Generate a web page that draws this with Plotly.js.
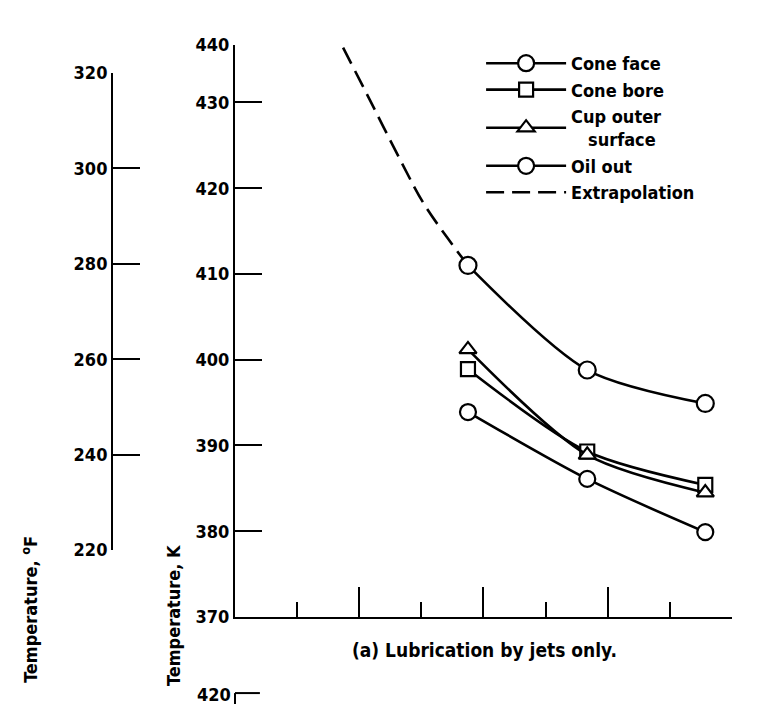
<!DOCTYPE html>
<html>
<head>
<meta charset="utf-8">
<script src="https://cdn.plot.ly/plotly-3.0.1.min.js"></script>
<style>html,body{margin:0;padding:0;background:#fff;}#chart{width:758px;height:704px;}</style>
</head>
<body>
<div id="chart"></div>
<script>
// Data (x in axis units, y in K)
const xPoints = [3.75, 5.67, 7.57];
const coneFace = [411.0, 398.8, 394.9];
const coneBore = [398.9, 389.3, 385.4];
const cupOuter = [401.2, 388.9, 384.5];
const oilOut = [393.9, 386.1, 379.9];
const extrapX = [1.74, 2.17, 2.66, 3.03, 3.41, 3.75];
const extrapY = [436.4, 430.3, 423.3, 418.3, 414.3, 411.0];
const kTickVals = [370, 380, 390, 400, 410, 420, 430, 436.7];
const kTickText = ['370', '380', '390', '400', '410', '420', '430', '440'];
const fTickVals = [220, 240, 260, 280, 300, 320];
const fTickText = ['220', '240', '260', '280', '300', '320'];
const seriesNames = ['Cone face', 'Cone bore', 'Cup outer<br>\u00a0\u00a0\u00a0surface', 'Oil out', 'Extrapolation'];

const FONT = 'Liberation Sans Narrow, DejaVu Sans Condensed, Arial Narrow, sans-serif';
const mk = (sym, size) => ({symbol: sym, size: size, color: '#fff', line: {color: '#000', width: 2.2}});
const ln = {color: '#000', width: 2.6, shape: 'spline', smoothing: 0.8};

const traces = [
  {x: [], y: [], yaxis: 'y2', showlegend: false, hoverinfo: 'skip'},
  {x: extrapX, y: extrapY, name: seriesNames[4], legendgroup: 'e', legendrank: 5, mode: 'lines', line: {color: '#000', width: 2.6, dash: '18px,8px', shape: 'spline'}},
  {x: xPoints, y: coneFace, name: seriesNames[0], legendgroup: 'a', legendrank: 1, mode: 'lines+markers', line: ln, marker: mk('circle', 17)},
  {x: xPoints, y: coneBore, name: seriesNames[1], legendgroup: 'b', legendrank: 2, mode: 'lines+markers', line: ln, marker: mk('square', 14)},
  {x: xPoints, y: cupOuter, name: seriesNames[2], legendgroup: 'c', legendrank: 3, mode: 'lines+markers', line: ln, marker: mk('triangle-up', 15)},
  {x: xPoints, y: oilOut, name: seriesNames[3], legendgroup: 'd', legendrank: 4, mode: 'lines+markers', line: ln, marker: mk('circle', 16)}
];

const tf = {family: FONT, size: 18, color: '#000', weight: 'bold'};

const layout = {
  width: 758, height: 704,
  margin: {l: 100, r: 26, t: 45, b: 87},
  paper_bgcolor: '#fff', plot_bgcolor: 'rgba(0,0,0,0)',
  font: {family: FONT, color: '#000', size: 17},
  showlegend: true,
  legend: {x: 0.603, y: 1.0, xanchor: 'left', yanchor: 'top', bgcolor: 'rgba(0,0,0,0)', traceorder: 'normal',
           font: {family: FONT, size: 18, color: '#000', weight: 'bold'}, itemwidth: 80, tracegroupgap: 3},
  xaxis: {domain: [0.2136, 1], range: [0, 8], showgrid: false, zeroline: false,
          showline: true, linecolor: '#000', linewidth: 2, mirror: false,
          tickvals: [0, 2, 4, 6, 8], ticks: 'inside', ticklen: 30, tickwidth: 2, tickcolor: '#000',
          showticklabels: false,
          minor: {tickvals: [1, 3, 5, 7], ticks: 'inside', ticklen: 15, tickwidth: 2, tickcolor: '#000', showgrid: false}},
  yaxis: {range: [370, 436.7], showgrid: false, zeroline: false,
          showline: true, linecolor: '#000', linewidth: 2,
          tickvals: kTickVals, ticktext: kTickText, ticks: 'inside', ticklen: 27, tickwidth: 2, tickcolor: '#000',
          tickfont: tf},
  yaxis2: {anchor: 'free', position: 0.019, side: 'left',
           domain: [0.117, 0.951], range: [220, 320], showgrid: false, zeroline: false,
           showline: true, linecolor: '#000', linewidth: 2,
           tickvals: fTickVals, ticktext: fTickText, ticks: 'inside', ticklen: 27, tickwidth: 2, tickcolor: '#000',
           tickfont: tf},
  annotations: [
    {text: 'Temperature, K', xref: 'paper', yref: 'paper', x: 0.117, y: 0.0035, xanchor: 'center', yanchor: 'middle', textangle: -90,
     showarrow: false, font: {family: FONT, size: 18, weight: 'bold'}},
    {text: 'Temperature, <sup>o</sup>F', xref: 'paper', yref: 'paper', x: -0.111, y: 0.014, xanchor: 'center', yanchor: 'middle', textangle: -90,
     showarrow: false, font: {family: FONT, size: 18, weight: 'bold'}},
    {text: '(a) Lubrication by jets only.', xref: 'paper', yref: 'paper', x: 0.609, y: -0.058, xanchor: 'center', yanchor: 'middle',
     showarrow: false, font: {family: FONT, size: 19, weight: 'bold'}},
    {text: '420', xref: 'paper', yref: 'paper', x: 0.180, y: -0.136, xanchor: 'center', yanchor: 'middle',
     showarrow: false, font: {family: FONT, size: 18, weight: 'bold'}}
  ],
  shapes: [
    {type: 'line', xref: 'paper', yref: 'paper', x0: 0.2136, x1: 0.253, y0: -0.133, y1: -0.133, line: {color: '#000', width: 2}},
    {type: 'line', xref: 'paper', yref: 'paper', x0: 0.2136, x1: 0.2136, y0: -0.133, y1: -0.17, line: {color: '#000', width: 2}}
  ]
};

Plotly.newPlot('chart', traces, layout, {displayModeBar: false, staticPlot: true});
</script>
</body>
</html>
